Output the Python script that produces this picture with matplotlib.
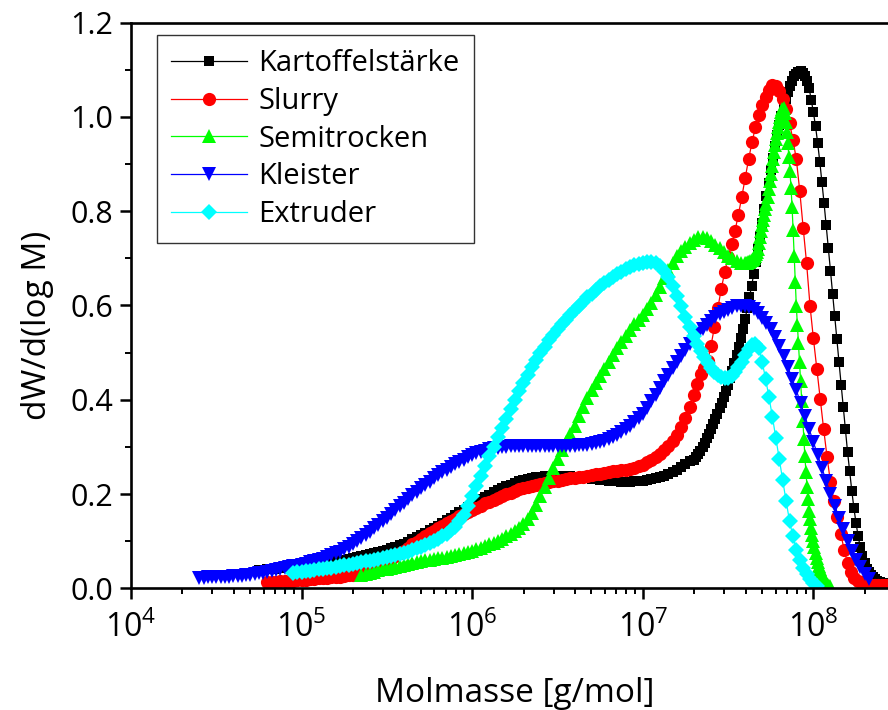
import numpy as np
import matplotlib
matplotlib.use("Agg")
import matplotlib.pyplot as plt
from matplotlib.ticker import (LogLocator, LogFormatterSciNotation, MultipleLocator,
                               FormatStrFormatter, NullFormatter)

plt.rcParams["font.family"] = ["Open Sans", "DejaVu Sans"]
plt.rcParams["mathtext.fontset"] = "custom"
plt.rcParams["mathtext.rm"] = "Open Sans"
plt.rcParams["mathtext.it"] = "Open Sans:italic"
plt.rcParams["mathtext.bf"] = "Open Sans:bold"

# GPC slices in log10(M): every trace starts with a broad part (STEP_WIDE)
# and continues at its own finer slice width in the high-mass region.
STEP_WIDE = 0.025

# ---------------- Kartoffelstärke ----------------
kart_start = 4.75
kart_wide = [
                  0.038, 0.039,
    0.040, 0.041, 0.042, 0.044,
    0.045, 0.046, 0.047, 0.049,
    0.050, 0.051, 0.052, 0.053,
    0.054, 0.055, 0.056, 0.057,
    0.058, 0.059, 0.061, 0.062,
    0.064, 0.066, 0.068, 0.070,
    0.072, 0.074, 0.077, 0.079,
    0.082, 0.085, 0.088, 0.091,
    0.095, 0.099, 0.104, 0.108,
    0.113, 0.118, 0.123, 0.128,
    0.133, 0.139, 0.144, 0.150,
    0.155, 0.161, 0.167, 0.172,
    0.178, 0.183, 0.189, 0.194,
    0.199, 0.204, 0.208, 0.213,
    0.217, 0.220, 0.224, 0.227,
    0.230, 0.232, 0.234, 0.236,
    0.237, 0.238, 0.238, 0.239,
    0.239, 0.239, 0.238, 0.238,
    0.237, 0.236, 0.234, 0.233,
    0.232, 0.231, 0.230, 0.229,
    0.228, 0.227, 0.227, 0.226,
    0.226, 0.226, 0.227, 0.227,
    0.228, 0.230, 0.231, 0.234,
    0.236, 0.239, 0.243, 0.247,
    0.252, 0.257, 0.263, 0.270,
]
kart_fine_start, kart_fine_step = 7.3, 0.0125
kart_fine = [
    0.272, 0.278, 0.285, 0.292, 0.300, 0.309, 0.318, 0.328,
    0.338, 0.348, 0.359, 0.370, 0.382, 0.394, 0.406, 0.419,
    0.432, 0.446, 0.461, 0.477, 0.494, 0.512, 0.531, 0.551,
    0.572, 0.594, 0.617, 0.641, 0.666, 0.692, 0.720, 0.748,
    0.776, 0.804, 0.832, 0.860, 0.887, 0.913, 0.938, 0.961,
    0.983, 1.003, 1.021, 1.038, 1.053, 1.066, 1.077, 1.086,
    1.092, 1.096, 1.097, 1.094, 1.087, 1.076, 1.061, 1.035,
    1.010, 0.980, 0.945, 0.905, 0.862, 0.817, 0.770, 0.722,
    0.674, 0.625, 0.577, 0.528, 0.480, 0.432, 0.384, 0.337,
    0.290, 0.248, 0.207, 0.170, 0.138, 0.110, 0.087, 0.068,
    0.053, 0.042, 0.034, 0.028, 0.023, 0.019, 0.016, 0.014,
    0.012, 0.011, 0.010, 0.009, 0.008,
]

# ---------------- Slurry ----------------
slurry_start = 4.8
slurry_wide = [
    0.014, 0.014, 0.014, 0.015,
    0.015, 0.016, 0.016, 0.017,
    0.018, 0.018, 0.019, 0.020,
    0.021, 0.021, 0.022, 0.023,
    0.024, 0.025, 0.026, 0.028,
    0.029, 0.031, 0.034, 0.037,
    0.040, 0.044, 0.048, 0.052,
    0.056, 0.062, 0.068, 0.074,
    0.080, 0.086, 0.093, 0.099,
    0.105, 0.111, 0.117, 0.122,
    0.128, 0.133, 0.138, 0.143,
    0.148, 0.153, 0.157, 0.162,
    0.166, 0.171, 0.175, 0.180,
    0.184, 0.188, 0.192, 0.196,
    0.200, 0.203, 0.207, 0.210,
    0.213, 0.215, 0.218, 0.220,
    0.222, 0.224, 0.225, 0.227,
    0.228, 0.230, 0.231, 0.233,
    0.234, 0.236, 0.237, 0.239,
    0.240, 0.242, 0.243, 0.245,
    0.246, 0.248, 0.249, 0.251,
    0.252, 0.254, 0.256, 0.259,
    0.262, 0.267, 0.272, 0.278,
    0.285, 0.293, 0.302, 0.313,
    0.325, 0.342, 0.362, 0.385,
]
slurry_fine_start, slurry_fine_step = 7.3, 0.02
slurry_fine = [
    0.410, 0.433, 0.455, 0.468, 0.482,
    0.515, 0.555, 0.595, 0.635, 0.671,
    0.702, 0.730, 0.758, 0.792, 0.830,
    0.870, 0.910, 0.946, 0.978, 1.004,
    1.025, 1.043, 1.058, 1.068, 1.066,
    1.056, 1.039, 1.017, 0.987, 0.952,
    0.910, 0.843, 0.765, 0.690, 0.600,
    0.530, 0.466, 0.402, 0.338, 0.279,
    0.225, 0.186, 0.151, 0.116, 0.082,
    0.053, 0.034, 0.022, 0.016, 0.013,
    0.010, 0.009, 0.008, 0.008, 0.007,
    0.007, 0.006, 0.006,
]

# ---------------- Semitrocken ----------------
semi_start = 5.35
semi_wide = [
                  0.029, 0.031,
    0.033, 0.035, 0.038, 0.040,
    0.042, 0.044, 0.046, 0.048,
    0.050, 0.052, 0.054, 0.055,
    0.057, 0.059, 0.061, 0.062,
    0.064, 0.065, 0.067, 0.068,
    0.070, 0.072, 0.075, 0.077,
    0.080, 0.083, 0.086, 0.089,
    0.093, 0.097, 0.101, 0.105,
    0.110, 0.115, 0.121, 0.128,
    0.136, 0.147, 0.160, 0.177,
    0.195, 0.215, 0.235, 0.255,
    0.275, 0.293, 0.311, 0.328,
    0.345, 0.365, 0.385, 0.403,
    0.420, 0.435, 0.450, 0.465,
    0.480, 0.495, 0.510, 0.523,
    0.535, 0.548, 0.560, 0.570,
    0.580, 0.592, 0.605, 0.622,
    0.640, 0.658, 0.675, 0.690,
    0.705, 0.716, 0.725, 0.733,
    0.740, 0.745, 0.746, 0.743,
    0.737, 0.729, 0.721, 0.713,
    0.706, 0.700, 0.695, 0.691,
]
semi_fine_start, semi_fine_step = 7.6, 0.00625
semi_fine = [
    0.690, 0.690, 0.691, 0.692, 0.693, 0.695, 0.697, 0.698,
    0.700, 0.704, 0.709, 0.714, 0.720, 0.732, 0.745, 0.758,
    0.770, 0.781, 0.793, 0.804, 0.815, 0.831, 0.847, 0.864,
    0.880, 0.895, 0.910, 0.925, 0.940, 0.953, 0.966, 0.978,
    0.990, 1.000, 1.010, 1.017, 1.020, 1.008, 0.990, 0.968,
    0.945, 0.915, 0.885, 0.850, 0.810, 0.760, 0.705, 0.650,
    0.598, 0.558, 0.520, 0.480, 0.440, 0.397, 0.355, 0.317,
    0.280, 0.247, 0.215, 0.189, 0.165, 0.146, 0.128, 0.114,
    0.100, 0.087, 0.075, 0.065, 0.056, 0.048, 0.040, 0.034,
    0.028, 0.023, 0.019, 0.015, 0.012, 0.009, 0.007, 0.005,
    0.004,
]

# ---------------- Kleister (broad slices throughout) ----------------
kleister_start = 4.4
kleister_wide = [
    0.022, 0.022, 0.023, 0.023,
    0.024, 0.024, 0.025, 0.025,
    0.026, 0.027, 0.027, 0.028,
    0.029, 0.030, 0.032, 0.033,
    0.035, 0.037, 0.039, 0.041,
    0.043, 0.045, 0.047, 0.048,
    0.050, 0.052, 0.055, 0.057,
    0.060, 0.063, 0.066, 0.070,
    0.074, 0.078, 0.083, 0.088,
    0.094, 0.100, 0.106, 0.113,
    0.120, 0.127, 0.135, 0.142,
    0.150, 0.158, 0.166, 0.174,
    0.182, 0.190, 0.197, 0.205,
    0.212, 0.219, 0.226, 0.233,
    0.240, 0.246, 0.252, 0.258,
    0.263, 0.268, 0.273, 0.278,
    0.282, 0.286, 0.289, 0.292,
    0.295, 0.297, 0.298, 0.299,
    0.300, 0.301, 0.301, 0.302,
    0.302, 0.302, 0.302, 0.302,
    0.302, 0.301, 0.301, 0.301,
    0.301, 0.301, 0.301, 0.302,
    0.302, 0.303, 0.304, 0.305,
    0.306, 0.308, 0.311, 0.313,
    0.316, 0.321, 0.326, 0.332,
    0.338, 0.345, 0.353, 0.361,
    0.370, 0.383, 0.397, 0.411,
    0.425, 0.439, 0.453, 0.467,
    0.480, 0.493, 0.506, 0.518,
    0.530, 0.540, 0.550, 0.559,
    0.568, 0.575, 0.581, 0.586,
    0.590, 0.594, 0.598, 0.599,
    0.600, 0.597, 0.592, 0.584,
    0.574, 0.563, 0.550, 0.533,
    0.515, 0.493, 0.470, 0.445,
    0.420, 0.393, 0.365, 0.338,
    0.310, 0.283, 0.255, 0.228,
    0.200, 0.175, 0.150, 0.125,
    0.100, 0.080, 0.060, 0.045,
    0.030, 0.020,
]
kleister_fine_start, kleister_fine_step = 8.35, 0.025
kleister_fine = []

# ---------------- Extruder ----------------
extr_start = 4.95
extr_wide = [
                  0.033, 0.034,
    0.035, 0.036, 0.037, 0.039,
    0.040, 0.041, 0.043, 0.044,
    0.046, 0.047, 0.049, 0.050,
    0.052, 0.053, 0.055, 0.057,
    0.058, 0.060, 0.062, 0.064,
    0.066, 0.068, 0.070, 0.072,
    0.075, 0.078, 0.081, 0.085,
    0.088, 0.092, 0.096, 0.100,
    0.105, 0.110, 0.116, 0.123,
    0.131, 0.142, 0.156, 0.174,
    0.195, 0.217, 0.239, 0.260,
    0.280, 0.300, 0.320, 0.340,
    0.360, 0.380, 0.399, 0.418,
    0.436, 0.453, 0.470, 0.485,
    0.500, 0.513, 0.526, 0.538,
    0.550, 0.560, 0.570, 0.580,
    0.590, 0.599, 0.608, 0.617,
    0.625, 0.633, 0.641, 0.648,
    0.655, 0.661, 0.667, 0.672,
    0.677, 0.681, 0.685, 0.688,
    0.690, 0.692, 0.693, 0.690,
    0.683, 0.673, 0.660, 0.642,
    0.620, 0.598, 0.576, 0.555,
]
extr_fine_start, extr_fine_step = 7.3, 0.02
extr_fine = [
    0.535, 0.519, 0.504, 0.490, 0.478,
    0.468, 0.459, 0.452, 0.448, 0.446,
    0.447, 0.451, 0.458, 0.469, 0.481,
    0.495, 0.507, 0.516, 0.519, 0.510,
    0.480, 0.444, 0.405, 0.363, 0.319,
    0.274, 0.229, 0.185, 0.143, 0.110,
    0.082, 0.061, 0.044, 0.031, 0.019,
    0.011, 0.005,
]

series_labels = ["Kartoffelstärke", "Slurry", "Semitrocken", "Kleister", "Extruder"]


def trace(start, wide, fine_start, fine_step, fine):
    logm = np.concatenate([start + STEP_WIDE * np.arange(len(wide)),
                           fine_start + fine_step * np.arange(len(fine))])
    return 10.0 ** logm, np.concatenate([wide, fine])


traces = [
    trace(kart_start, kart_wide, kart_fine_start, kart_fine_step, kart_fine),
    trace(slurry_start, slurry_wide, slurry_fine_start, slurry_fine_step, slurry_fine),
    trace(semi_start, semi_wide, semi_fine_start, semi_fine_step, semi_fine),
    trace(kleister_start, kleister_wide, kleister_fine_start, kleister_fine_step, kleister_fine),
    trace(extr_start, extr_wide, extr_fine_start, extr_fine_step, extr_fine),
]

styles = [
    dict(color="#000000", marker="s", ms=7.6),
    dict(color="#ff0000", marker="o", ms=9.5),
    dict(color="#00ff00", marker="^", ms=10.5),
    dict(color="#0000ff", marker="v", ms=10.5),
    dict(color="#00ffff", marker="D", ms=8.0),
]

W, H = 888, 710
fig = plt.figure(figsize=(W / 100, H / 100), dpi=100)
ax_left, ax_bottom, ax_top = 131, 588.3, 22.7
decade_px = 170.6
x_lo, x_hi = 4.0, 8.5
ax = fig.add_axes([ax_left / W, (H - ax_bottom) / H,
                   decade_px * (x_hi - x_lo) / W, (ax_bottom - ax_top) / H])

for (m, v), lab, st in zip(traces, series_labels, styles):
    ax.plot(m, v, color=st["color"], lw=0.9, marker=st["marker"], ms=st["ms"],
            mfc=st["color"], mec=st["color"], mew=0, label=lab)

ax.set_xscale("log")
ax.set_xlim(10 ** x_lo, 10 ** x_hi)
ax.set_ylim(0, 1.2)

ax.xaxis.set_major_locator(LogLocator(base=10, numticks=12))
ax.xaxis.set_minor_locator(LogLocator(base=10, subs=np.arange(2, 10), numticks=100))
ax.xaxis.set_major_formatter(LogFormatterSciNotation())
ax.xaxis.set_minor_formatter(NullFormatter())
ax.yaxis.set_major_locator(MultipleLocator(0.2))
ax.yaxis.set_minor_locator(MultipleLocator(0.1))
ax.yaxis.set_major_formatter(FormatStrFormatter("%.1f"))

for side in ("left", "bottom", "top", "right"):
    ax.spines[side].set_linewidth(1.9)
ax.tick_params(which="major", direction="out", length=8, width=1.8,
               labelsize=22, pad=5)
ax.tick_params(which="minor", direction="out", length=4.5, width=1.4)
ax.tick_params(axis="x", which="major", labelsize=23, pad=9)

ax.set_xlabel("Molmasse [g/mol]", fontsize=24, labelpad=23)
ax.set_ylabel("dW/d(log M)", fontsize=24)
ax.yaxis.set_label_coords(-0.10, 0.465)

leg = ax.legend(loc="upper left", bbox_to_anchor=(0.034, 0.978), fontsize=21,
                frameon=True, fancybox=False, edgecolor="black",
                handlelength=2.6, handletextpad=0.4, borderpad=0.48,
                labelspacing=0.30, borderaxespad=0, numpoints=1)
leg.get_frame().set_linewidth(1.0)

fig.savefig("out.png", dpi=100)
